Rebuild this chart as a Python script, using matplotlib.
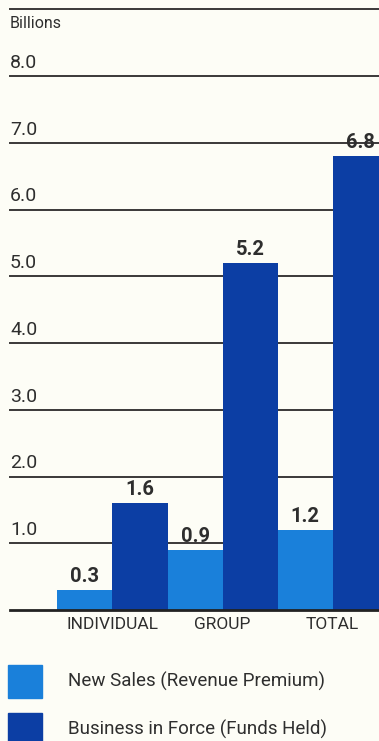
import matplotlib
matplotlib.use("Agg")
import matplotlib.pyplot as plt
from matplotlib.patches import Rectangle
import numpy as np

categories = ["INDIVIDUAL", "GROUP", "TOTAL"]
new_sales = [0.3, 0.9, 1.2]
business_in_force = [1.6, 5.2, 6.8]
value_labels_new = ["0.3", "0.9", "1.2"]
value_labels_force = ["1.6", "5.2", "6.8"]
grid_values = [1.0, 2.0, 3.0, 4.0, 5.0, 6.0, 7.0, 8.0]
grid_labels = ["1.0", "2.0", "3.0", "4.0", "5.0", "6.0", "7.0", "8.0"]
series_names = ["New Sales (Revenue Premium)", "Business in Force (Funds Held)"]
unit_label = "Billions"

LIGHT = "#1a80da"
DARK = "#0c3ea4"
BG = "#fdfdf6"
INK = "#2e2e2e"
LINE = "#3a3838"
FONT = ["Roboto", "DejaVu Sans"]

W, H = 379, 741
fig = plt.figure(figsize=(W / 100, H / 100), dpi=100, facecolor=BG)
ax = fig.add_axes([0, 0, 1, 1], facecolor=BG)

# pixel geometry: group spacing 110 px, one value unit = 66.75 px, baseline 131 px from bottom
px_unit_x = 110.0
px_unit_y = 66.75
x0_px = 112.5
base_px = 131.0
ax.set_xlim(-x0_px / px_unit_x, (W - x0_px) / px_unit_x)
ax.set_ylim(-base_px / px_unit_y, (H - base_px) / px_unit_y)
ax.axis("off")

x = np.arange(len(categories))
bw = 0.5

# horizontal rules with their scale values
for v, lab in zip(grid_values, grid_labels):
    ax.axhline(v, xmin=10 / W, xmax=1, color=LINE, lw=1.4, zorder=1)
    ax.annotate(lab, xy=(10 / W, v), xycoords=("axes fraction", "data"),
                xytext=(0, 3), textcoords="offset points",
                ha="left", va="bottom", fontsize=14, color=INK, family=FONT)
ax.axhline(9.0, xmin=10 / W, xmax=1, color=LINE, lw=1.4, zorder=1)
ax.annotate(unit_label, xy=(10 / W, 9.0), xycoords=("axes fraction", "data"),
            xytext=(0, -5), textcoords="offset points",
            ha="left", va="top", fontsize=11.5, color=INK, family=FONT)

b1 = ax.bar(x - bw / 2, new_sales, width=bw, color=LIGHT, zorder=2)
b2 = ax.bar(x + bw / 2, business_in_force, width=bw, color=DARK, zorder=2)
ax.axhline(0, xmin=10 / W, xmax=1, color="#222222", lw=2.0, zorder=3)

for rect, lab in zip(b1, value_labels_new):
    ax.annotate(lab, xy=(rect.get_x() + rect.get_width() / 2, rect.get_height()),
                xytext=(0, 3), textcoords="offset points", ha="center", va="bottom",
                fontsize=14.5, fontweight="bold", color=INK, family=FONT)
for rect, lab in zip(b2, value_labels_force):
    ax.annotate(lab, xy=(rect.get_x() + rect.get_width() / 2, rect.get_height()),
                xytext=(0, 3), textcoords="offset points", ha="center", va="bottom",
                fontsize=14.5, fontweight="bold", color=INK, family=FONT)

for xi, cat in zip(x, categories):
    ax.annotate(cat, xy=(xi, 0), xytext=(0, -5), textcoords="offset points",
                ha="center", va="top", fontsize=12.5, color=INK, family=FONT)

# legend swatches and names
for i, (name, col) in enumerate(zip(series_names, [LIGHT, DARK])):
    top = 665 + i * 48
    fig.patches.append(Rectangle((8 / W, 1 - (top + 33) / H), 34 / W, 33 / H,
                                 transform=fig.transFigure, color=col, figure=fig))
    fig.text(68 / W, 1 - (top + 16.5) / H, name, ha="left", va="center",
             fontsize=13.5, color=INK, family=FONT)

fig.savefig("out.png", dpi=100, facecolor=BG)
